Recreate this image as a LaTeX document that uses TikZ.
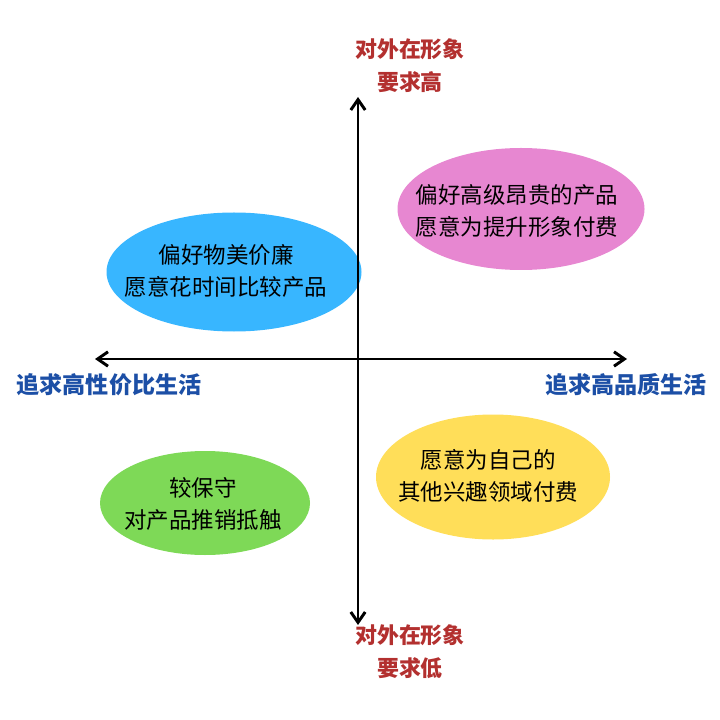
\documentclass[tikz,border=0pt]{standalone}
\usepackage{fontspec}
\newfontfamily\cjk{Noto Sans CJK SC}
\usetikzlibrary{arrows.meta,shapes.geometric}
\definecolor{axisred}{HTML}{B3302F}
\definecolor{axisblue}{HTML}{1C4FA6}
\definecolor{blobblue}{HTML}{38B6FF}
\definecolor{blobpink}{HTML}{E787D1}
\definecolor{blobyellow}{HTML}{FFDE59}
\definecolor{blobgreen}{HTML}{7ED957}
\tikzset{
  axis/.style={
    line width=2.1pt,draw=black,
    {Straight Barb[length=2.6mm,width=3.6mm,line width=2.1pt]}-{Straight Barb[length=2.6mm,width=3.6mm,line width=2.1pt]}
  },
  blob/.style={
    ellipse,draw=none,fill=#1,inner sep=0pt
  },
  blobtext/.style={
    align=center,font=\cjk\fontsize{16pt}{22.7pt}\selectfont,text=black
  },
  ylabel/.style={
    align=center,text=axisred,font=\cjk\bfseries\fontsize{15.6pt}{23.4pt}\selectfont
  },
  xlabel/.style={
    text=axisblue,font=\cjk\bfseries\fontsize{16.4pt}{20pt}\selectfont
  }
}
\begin{document}
\begin{tikzpicture}[x=0.025cm,y=-0.025cm]
    \useasboundingbox (0,0) rectangle (720,720);

    % axes
    \coordinate (north) at (358,97);
    \coordinate (south) at (358,625);
    \coordinate (west) at (95,359);
    \coordinate (east) at (627,359);

    % quadrant blobs
    \node[blob=blobpink,minimum width=247*0.025cm,minimum height=122*0.025cm]
      (premiumblob) at (521,209) {};
    \node[blob=blobblue,minimum width=255*0.025cm,minimum height=119*0.025cm]
      (valueblob) at (234,272) {};
    \node[blob=blobyellow,minimum width=234*0.025cm,minimum height=125*0.025cm]
      (hobbyblob) at (493,477) {};
    \node[blob=blobgreen,minimum width=210*0.025cm,minimum height=104*0.025cm]
      (conservblob) at (205,503) {};

    \node[blobtext] (premium) at (517,211)
      {偏好高级昂贵的产品\\愿意为提升形象付费};
    \node[blobtext] (value) at (226,271)
      {偏好物美价廉\\愿意花时间比较产品};
    \node[blobtext] (hobby) at (488,476)
      {愿意为自己的\\其他兴趣领域付费};
    \node[blobtext] (conserv) at (203,504)
      {较保守\\对产品推销抵触};

    \draw[axis] (south) -- (north);
    \draw[axis] (west) -- (east);

    % axis labels
    \node[ylabel] (imagehigh) at (410,66) {对外在形象\\要求高};
    \node[ylabel] (imagelow) at (410,652) {对外在形象\\要求低};
    \node[xlabel] (costlife) at (109,385) {追求高性价比生活};
    \node[xlabel] (qualitylife) at (626,385) {追求高品质生活};
  \end{tikzpicture}
\end{document}
